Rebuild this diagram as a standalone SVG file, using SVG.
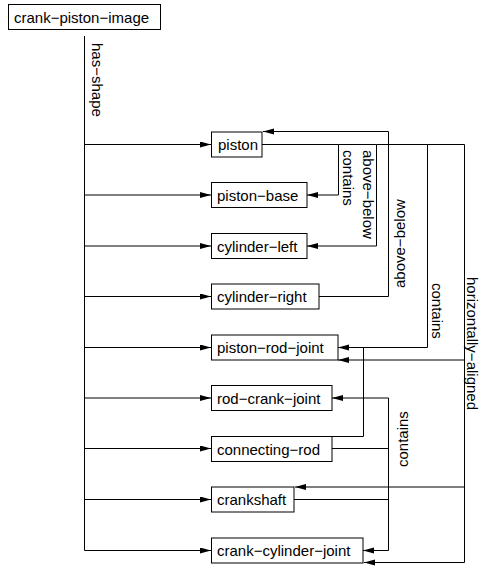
<svg xmlns="http://www.w3.org/2000/svg" width="480" height="566" viewBox="0 0 480 566">
  <style>
    text { font-family: "Liberation Sans", Arial, sans-serif; font-size: 15px; fill: #000; }
    .box { fill: #fff; stroke: #000; stroke-width: 1; }
    .edge { fill: none; stroke: #000; stroke-width: 1; }
    .arrow { marker-end: url(#head); }
  </style>
  <defs>
    <marker id="head" markerUnits="userSpaceOnUse" markerWidth="12" markerHeight="7" refX="11" refY="3" orient="auto">
      <path d="M0,0 L11,3 L0,6 z" fill="#000"/>
    </marker>
  </defs>
  <rect width="480" height="566" fill="#fff"/>

  <g id="connectors">
    <!-- has-shape trunk and branches -->
    <path class="edge" d="M84.5,36 V550.5"/>
    <path class="edge arrow" d="M84.5,144.5 H211"/>
    <path class="edge arrow" d="M84.5,195 H211"/>
    <path class="edge arrow" d="M84.5,246 H211"/>
    <path class="edge arrow" d="M84.5,296.5 H211"/>
    <path class="edge arrow" d="M84.5,347.5 H211"/>
    <path class="edge arrow" d="M84.5,398 H211"/>
    <path class="edge arrow" d="M84.5,448.5 H211"/>
    <path class="edge arrow" d="M84.5,499.5 H211"/>
    <path class="edge arrow" d="M84.5,550.5 H211"/>
    <text transform="translate(92,43) rotate(90)">has−shape</text>

    <!-- piston contains piston-base -->
    <path class="edge arrow" d="M262,144.5 H338.5 V195 H307"/>
    <text transform="translate(343,150) rotate(90)">contains</text>

    <!-- piston above-below cylinder-left -->
    <path class="edge arrow" d="M338.5,144.5 H376.5 V246 H307"/>
    <text transform="translate(363,150) rotate(90)">above−below</text>

    <!-- cylinder-right above-below piston -->
    <path class="edge arrow" d="M319,296.5 H388.5 V131.5 H263"/>
    <text transform="translate(405,288) rotate(-90)">above−below</text>

    <!-- piston contains piston-rod-joint -->
    <path class="edge arrow" d="M376.5,144.5 H427.5 V347.5 H338"/>
    <text transform="translate(432,283) rotate(90)">contains</text>

    <!-- piston horizontally-aligned piston-rod-joint, crankshaft, crank-cylinder-joint -->
    <path class="edge" d="M427.5,144.5 H464.5 V562.5"/>
    <path class="edge arrow" d="M464.5,360 H338"/>
    <path class="edge arrow" d="M464.5,487 H295"/>
    <path class="edge arrow" d="M464.5,562.5 H364"/>
    <text transform="translate(467,277) rotate(90)">horizontally−aligned</text>

    <!-- connecting-rod contains piston-rod-joint -->
    <path class="edge" d="M332,436.5 H363.5 V347.5"/>

    <!-- connecting-rod / crankshaft contains rod-crank-joint, crank-cylinder-joint -->
    <path class="edge" d="M332,448.5 H388.5"/>
    <path class="edge" d="M294,499.5 H388.5"/>
    <path class="edge" d="M388.5,398 V550.5"/>
    <path class="edge arrow" d="M388.5,398 H332"/>
    <path class="edge arrow" d="M388.5,550.5 H363"/>
    <text transform="translate(408,467) rotate(-90)">contains</text>
  </g>

  <g id="crank-piston-image">
    <rect class="box" x="8.5" y="4.5" width="152" height="25"/>
    <text x="14" y="23">crank−piston−image</text>
  </g>
  <g id="piston">
    <rect class="box" x="211.5" y="132" width="50.5" height="25"/>
    <text x="218" y="150">piston</text>
  </g>
  <g id="piston-base">
    <rect class="box" x="211.5" y="182.5" width="95.5" height="25"/>
    <text x="217" y="200.5">piston−base</text>
  </g>
  <g id="cylinder-left">
    <rect class="box" x="211.5" y="233.5" width="95.5" height="25"/>
    <text x="217" y="251.5">cylinder−left</text>
  </g>
  <g id="cylinder-right">
    <rect class="box" x="211.5" y="284" width="107.5" height="25"/>
    <text x="217" y="302">cylinder−right</text>
  </g>
  <g id="piston-rod-joint">
    <rect class="box" x="211.5" y="335" width="126.5" height="25"/>
    <text x="217" y="353">piston−rod−joint</text>
  </g>
  <g id="rod-crank-joint">
    <rect class="box" x="211.5" y="385.5" width="120.5" height="25"/>
    <text x="217" y="403.5">rod−crank−joint</text>
  </g>
  <g id="connecting-rod">
    <rect class="box" x="211.5" y="436.5" width="120.5" height="25"/>
    <text x="217" y="454.5">connecting−rod</text>
  </g>
  <g id="crankshaft">
    <rect class="box" x="211.5" y="487" width="82.5" height="25"/>
    <text x="217" y="505">crankshaft</text>
  </g>
  <g id="crank-cylinder-joint">
    <rect class="box" x="211.5" y="538" width="151.5" height="25"/>
    <text x="217" y="556">crank−cylinder−joint</text>
  </g>
</svg>
